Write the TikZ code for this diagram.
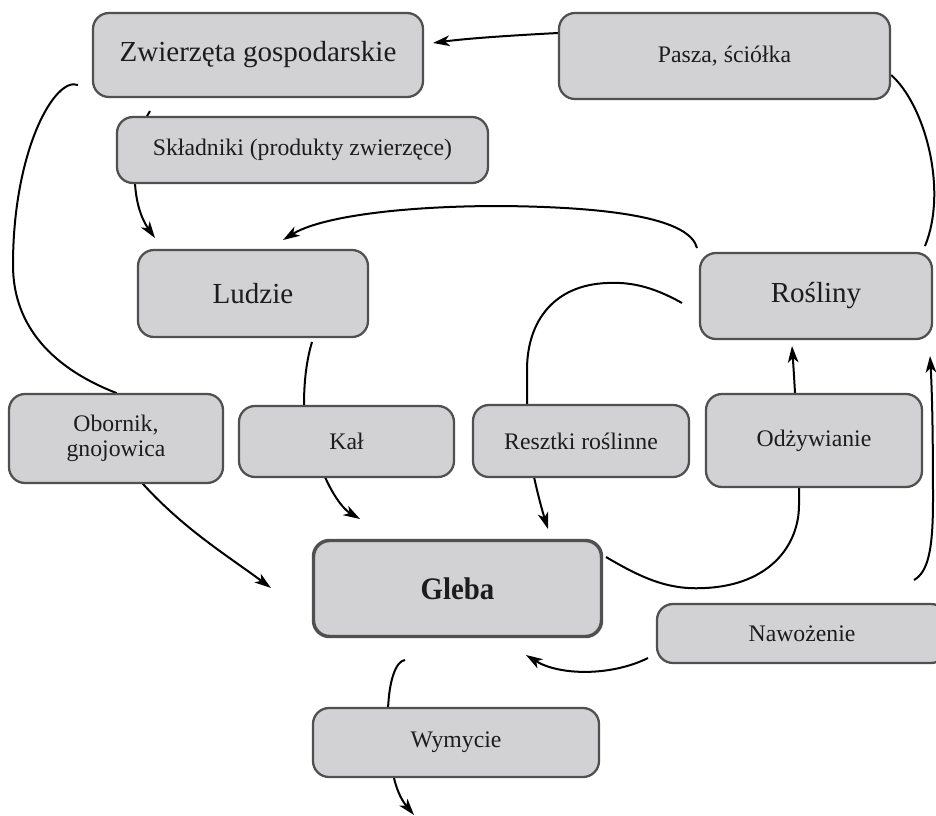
\documentclass[tikz,border=0pt]{standalone}
\usepackage{fontspec}
\setmainfont{Liberation Serif}
\usetikzlibrary{arrows.meta,backgrounds}
\definecolor{boxfill}{HTML}{D2D2D4}
\definecolor{boxdraw}{HTML}{505050}
\definecolor{txt}{HTML}{1C1C1C}
\tikzset{
  box/.style={rectangle, rounded corners=12pt, draw=boxdraw, line width=1.7pt, fill=boxfill, text=txt, align=center, inner sep=0pt},
  big/.style={font=\fontsize{21.8}{24}\selectfont},
  mid/.style={font=\fontsize{17.8}{21}\selectfont},
  conn/.style={line width=1.5pt, black},
  arr/.style={conn, -{Stealth[length=12.5pt,width=8pt,inset=3.5pt]}}
}
\begin{document}
\begin{tikzpicture}[x=0.75pt,y=-0.75pt]
\clip (0,0) rectangle (936,815);
\useasboundingbox (0,0) rectangle (936,815);
% nodes
\node[box,big,minimum width=330*0.75pt,minimum height=84*0.75pt] (zw) at (258,55) {Zwierzęta gospodarskie};
\node[box,mid,minimum width=331*0.75pt,minimum height=86*0.75pt] (pasza) at (724.5,56) {Pasza, ściółka};
\node[box,mid,minimum width=371*0.75pt,minimum height=66*0.75pt] (skl) at (302.5,150) {Składniki (produkty zwierzęce)};
\node[box,big,minimum width=230*0.75pt,minimum height=87*0.75pt] (ludzie) at (253,293.5) {Ludzie};
\node[box,big,minimum width=232*0.75pt,minimum height=86*0.75pt] (rosliny) at (816,296) {Rośliny};
\node[box,mid,minimum width=214*0.75pt,minimum height=89*0.75pt] (obornik) at (116,438.5) {Obornik,\\[-2pt]gnojowica};
\node[box,mid,minimum width=215*0.75pt,minimum height=71*0.75pt] (kal) at (346.5,441.5) {Kał};
\node[box,mid,minimum width=216*0.75pt,minimum height=72*0.75pt] (resztki) at (581,441) {Resztki roślinne};
\node[box,mid,minimum width=216*0.75pt,minimum height=93*0.75pt] (odz) at (814,440.5) {Odżywianie};
\node[box,line width=2.6pt,minimum width=288*0.75pt,minimum height=96*0.75pt,font=\fontsize{23.5}{26}\selectfont\bfseries] (gleba) at (457.5,588.5) {\scalebox{0.92}[1]{Gleba}};
\node[box,mid,minimum width=290*0.75pt,minimum height=59*0.75pt] (naw) at (802,633.5) {Nawożenie};
\node[box,mid,minimum width=286*0.75pt,minimum height=69*0.75pt] (wym) at (456,742.5) {Wymycie};
% free-end coordinates
\coordinate (tzw) at (433,43);
\coordinate (sros) at (925,246);
\coordinate (sros2) at (697,248);
\coordinate (tlud) at (283,240);
\coordinate (szw) at (150,111);
\coordinate (tlud2) at (155,238);
\coordinate (szw2) at (78,85);
\coordinate (tgl1) at (271,588);
\coordinate (slud) at (312,342);
\coordinate (tgl2) at (360,519);
\coordinate (sros3) at (682,303);
\coordinate (tgl3) at (548,529);
\coordinate (trosb) at (792,346);
\coordinate (sgl) at (606,557);
\coordinate (snaw) at (914,580);
\coordinate (trosr) at (930,356);
\coordinate (snaw2) at (648,658);
\coordinate (tgl4) at (526,655);
\coordinate (sgl2) at (405,660);
\coordinate (tout) at (414,815);
\begin{pgfonlayer}{background}
% Pasza -> Zwierzeta
\draw[arr] (pasza.west |- 0,33) .. controls (520,35) and (470,38) .. (tzw);
% Rosliny -> Pasza (line)
\draw[conn] (pasza.east |- 0,75) .. controls (925,105) and (948,190) .. (sros);
% Rosliny -> Ludzie
\draw[arr] (sros2) .. controls (690,220) and (620,207) .. (500,206) .. controls (400,206) and (320,217) .. (tlud);
% Zwierzeta -> Skladniki -> Ludzie
\draw[arr] (szw) .. controls (132,140) and (128,200) .. (tlud2);
% Zwierzeta -> Obornik -> Gleba
\draw[arr] (szw2) .. controls (55,76) and (13,150) .. (13,265) .. controls (13,320) and (45,365) .. (obornik.north) -- (143,484) .. controls (185,530) and (228,556) .. (tgl1);
% Ludzie -> Kal -> Gleba
\draw[arr] (slud) .. controls (305,365) and (304,390) .. (kal.north -| 304,0) -- (325,477) .. controls (333,495) and (343,509) .. (tgl2);
% Rosliny -> Resztki -> Gleba
\draw[arr] (sros3) .. controls (650,285) and (628,282) .. (607,283) .. controls (555,285) and (527,320) .. (527,370) -- (527,410) -- (534,477) .. controls (538,495) and (542,510) .. (tgl3);
% Odzywianie -> Rosliny
\draw[arr] (odz.north -| 795,0) .. controls (794,375) and (793,360) .. (trosb);
% Gleba -> Odzywianie
\draw[conn] (sgl) .. controls (645,580) and (670,590) .. (705,588) .. controls (770,585) and (799,545) .. (799,505) -- (odz.south -| 799,0);
% Nawozenie -> Rosliny
\draw[arr] (snaw) .. controls (928,572) and (933,550) .. (933,500) .. controls (933,430) and (932,390) .. (trosr);
% Nawozenie -> Gleba
\draw[arr] (snaw2) .. controls (612,676) and (560,676) .. (tgl4);
% Gleba -> Wymycie -> out
\draw[arr] (sgl2) .. controls (396,661) and (389,680) .. (388,710) -- (394,778) .. controls (398,795) and (404,803) .. (tout);
\end{pgfonlayer}
\end{tikzpicture}
\end{document}
